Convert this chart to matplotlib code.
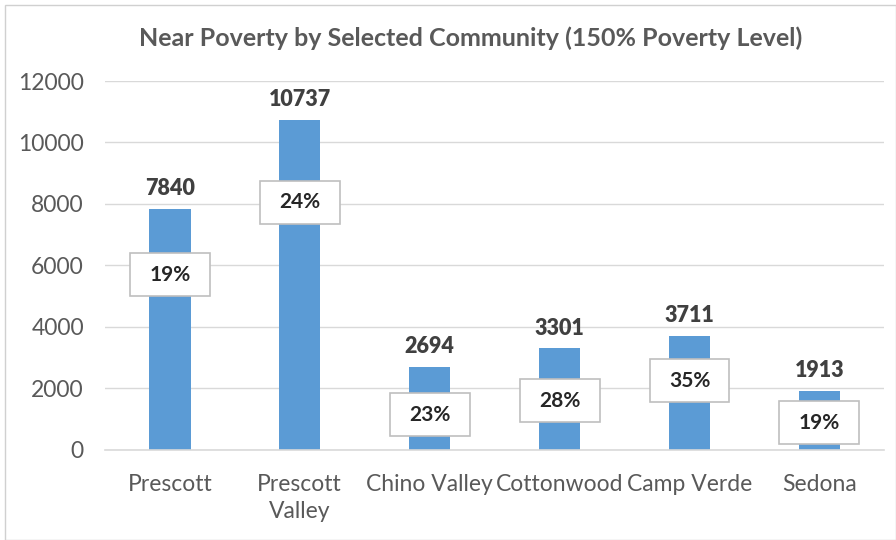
import matplotlib.pyplot as plt
from matplotlib.patches import Rectangle

plt.rcParams['font.family'] = ['Lato', 'DejaVu Sans']

communities = ["Prescott", "Prescott\nValley", "Chino Valley", "Cottonwood", "Camp Verde", "Sedona"]
near_poverty = [7840, 10737, 2694, 3301, 3711, 1913]
pct_labels = ["19%", "24%", "23%", "28%", "35%", "19%"]
# vertical centre of each percentage box, in axis units
pct_label_y = [5700, 8050, 1140, 1600, 2250, 880]

BAR = "#5B9BD5"
GRAY = "#595959"
GRID = "#D9D9D9"

fig = plt.figure(figsize=(8.96, 5.40), dpi=100)
ax = fig.add_axes([0.117, 0.1667, 0.870, 0.6833])

x = range(len(communities))
ax.bar(x, near_poverty, width=0.32, color=BAR, zorder=2)

for i, v in enumerate(near_poverty):
    ax.annotate(str(v), (i, v), xytext=(0, 7), textcoords="offset points",
                ha="center", va="bottom", fontsize=15.5, fontweight="heavy", color="#404040")

bw, bh = 0.615, 1400
for i, (lab, yc) in enumerate(zip(pct_labels, pct_label_y)):
    ax.add_patch(Rectangle((i - bw / 2, yc - bh / 2), bw, bh, facecolor="white",
                           edgecolor="#BFBFBF", linewidth=1.2, zorder=3))
    ax.text(i, yc, lab, ha="center", va="center", fontsize=15, fontweight="bold",
            color="#262626", zorder=4)

ax.set_xlim(-0.5, len(communities) - 0.5)
ax.set_ylim(0, 12000)
ax.set_yticks(range(0, 12001, 2000))
ax.set_xticks(list(x))
ax.set_xticklabels(communities, fontsize=16.5, color=GRAY, linespacing=1.35)
ax.tick_params(axis="y", labelsize=16.5, labelcolor=GRAY, length=0, pad=15)
ax.tick_params(axis="x", length=0, pad=17)
for lab in ax.get_xticklabels():
    lab.set_verticalalignment("top")

ax.grid(axis="y", color=GRID, linewidth=1, zorder=0)
for s in ["top", "right", "left"]:
    ax.spines[s].set_visible(False)
ax.spines["bottom"].set_color(GRID)
ax.spines["bottom"].set_linewidth(1.2)

fig.text(0.525, 0.93, "Near Poverty by Selected Community (150% Poverty Level)",
         ha="center", va="center", fontsize=18, fontweight="bold", color=GRAY)

fig.patches.append(Rectangle((0.006, 0.0), 0.994, 0.99, transform=fig.transFigure,
                             fill=False, edgecolor="#D0D0D0", linewidth=1))

fig.savefig("out.png", dpi=100)
